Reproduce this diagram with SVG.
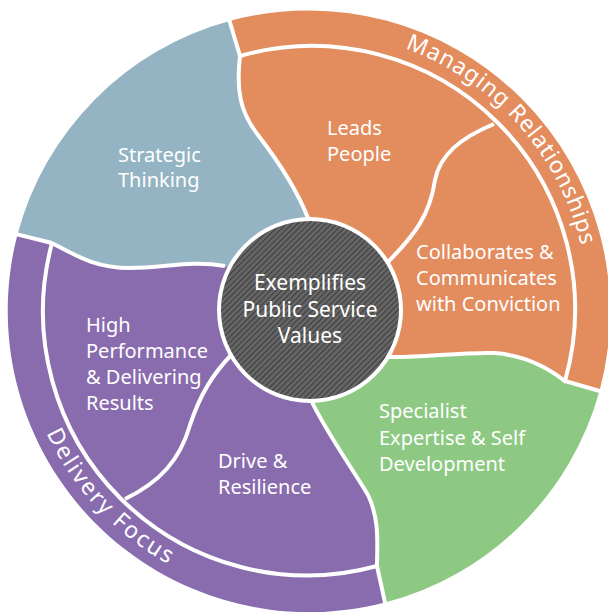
<svg xmlns="http://www.w3.org/2000/svg" width="608" height="612" viewBox="0 0 608 612">
  <defs>
    <pattern id="hatch" patternUnits="userSpaceOnUse" width="4" height="4" patternTransform="rotate(45)">
      <rect x="0" y="0" width="4" height="4" fill="#676767"/>
      <line x1="0.6" y1="0" x2="0.6" y2="4" stroke="#3f3f3f" stroke-width="1.2"/>
    </pattern>
    <path id="arcManaging" d="M405.1,48.6 A278,278 0 0 1 587.3,338.1"/>
    <path id="arcDelivery" d="M46.3,433 A291,291 0 0 0 360.5,596.6"/>
  </defs>
  <style>
    .lbl { font-family: "Noto Sans", "Open Sans", "Liberation Sans", sans-serif; font-size: 20px; fill: #ffffff; }
    .mid { font-size: 21px; }
    .arc { font-family: "Noto Sans", "Open Sans", "Liberation Sans", sans-serif; font-size: 23px; fill: #ffffff; }
    .sep { fill: none; stroke: #ffffff; stroke-width: 4; stroke-linecap: butt; stroke-linejoin: round; }
    .blue { fill: #94b4c4; }
    .orange { fill: #e38c5e; }
    .green { fill: #8dc983; }
    .purple { fill: #896cae; }
  </style>
  <rect x="0" y="0" width="608" height="612" fill="#ffffff"/>

  <g id="strategic-thinking">
    <path class="blue" d="M17.5,234.5 A301.5,301.5 0 0 1 229.5,21 L240,56 C236,90 240,112 258,135 C275,157 295,185 308,218 L310,310 L225,266 C190,260 165,268 130,268 C95,268 75,255 52,243 Z"/>
    <text class="lbl" x="118" y="162">Strategic</text>
    <text class="lbl" x="118" y="187">Thinking</text>
  </g>

  <g id="managing-relationships">
    <path class="orange" d="M229.5,21 A301.5,301.5 0 0 1 599.5,391 L565,381 C545,365 520,355 495,353 C460,352 420,358 388,357 L310,310 L308,218 C295,185 275,157 258,135 C240,112 236,90 240,56 Z"/>
    <text class="arc" letter-spacing="0.7"><textPath href="#arcManaging">Managing Relationships</textPath></text>
  </g>

  <g id="leads-people">
    <text class="lbl" x="327" y="135">Leads</text>
    <text class="lbl" x="327" y="161">People</text>
  </g>

  <g id="collaborates">
    <text class="lbl" x="416" y="259">Collaborates &amp;</text>
    <text class="lbl" x="416" y="285">Communicates</text>
    <text class="lbl" x="416" y="311">with Conviction</text>
  </g>

  <g id="specialist-expertise">
    <path class="green" d="M599.5,391 A301.5,301.5 0 0 1 385,602.5 L377,566 C377,545 380,520 368,495 C350,465 325,430 311,400 L310,310 L388,357 C420,358 460,352 495,353 C520,355 545,365 566,382 Z"/>
    <text class="lbl" x="379" y="418">Specialist</text>
    <text class="lbl" x="379" y="444.5">Expertise &amp; Self</text>
    <text class="lbl" x="379" y="471">Development</text>
  </g>

  <g id="delivery-focus">
    <path class="purple" d="M385,602.5 A301.5,301.5 0 0 1 17.5,234.5 L52,243 C75,255 95,268 130,268 C165,268 190,260 225,266 L310,310 L311,400 C325,430 350,465 368,495 C380,520 377,545 377,566 Z"/>
    <text class="arc" letter-spacing="2"><textPath href="#arcDelivery">Delivery Focus</textPath></text>
  </g>

  <g id="high-performance">
    <text class="lbl" x="86" y="332">High</text>
    <text class="lbl" x="86" y="358">Performance</text>
    <text class="lbl" x="86" y="384">&amp; Delivering</text>
    <text class="lbl" x="86" y="410">Results</text>
  </g>

  <g id="drive-resilience">
    <text class="lbl" x="218" y="468">Drive &amp;</text>
    <text class="lbl" x="218" y="494">Resilience</text>
  </g>

  <g id="connectors">
    <path class="sep" d="M240,56 A263,263 0 0 1 565,381"/>
    <path class="sep" d="M377,566 A264,264 0 0 1 52,243"/>
    <path class="sep" d="M226,9 L240,56"/>
    <path class="sep" d="M5,231.4 L52,243"/>
    <path class="sep" d="M612,394.6 L565,381"/>
    <path class="sep" d="M377,566 L387.5,614"/>
    <path class="sep" stroke="#f0f0f0" d="M240,56 C236,90 240,112 258,135 C275,157 295,185 308,218"/>
    <path class="sep" d="M52,243 C75,255 95,268 130,268 C165,268 190,260 225,266"/>
    <path class="sep" d="M494,124 C460,138 440,155 435,180 C430,215 415,235 385,265"/>
    <path class="sep" d="M388,357 C420,358 460,352 495,353 C520,355 545,365 566,382"/>
    <path class="sep" d="M311,400 C325,430 350,465 368,495 C380,520 377,545 377,566"/>
    <path class="sep" d="M232,354 C212,375 200,395 190,425 C180,460 160,482 125,499"/>
  </g>

  <g id="public-service-values">
    <circle cx="310" cy="310" r="91" fill="url(#hatch)" stroke="#ffffff" stroke-width="4"/>
    <text class="lbl mid" x="310" y="290" text-anchor="middle">Exemplifies</text>
    <text class="lbl mid" x="310" y="317" text-anchor="middle">Public Service</text>
    <text class="lbl mid" x="310" y="343" text-anchor="middle">Values</text>
  </g>
</svg>
